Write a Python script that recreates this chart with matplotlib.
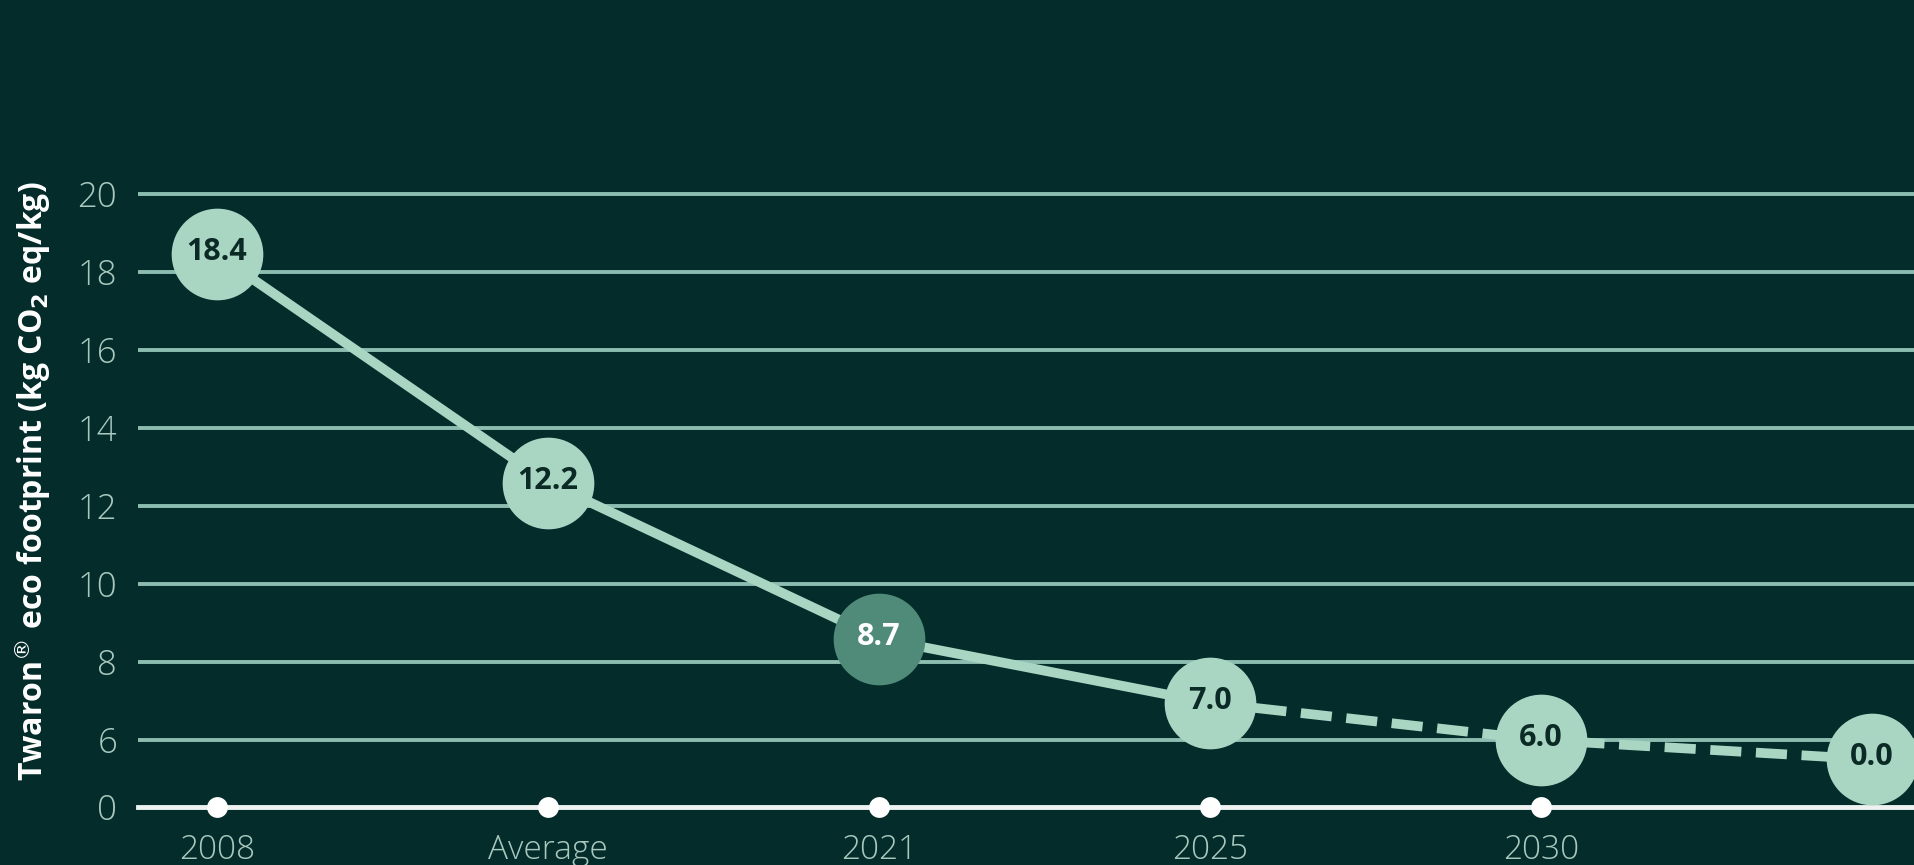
"""
Twaron eco footprint chart: line with labelled circle markers on a dark green panel.
"""
import matplotlib
matplotlib.use('Agg')
import matplotlib.pyplot as plt

# categories along the baseline (6th point has no visible label)
categories = ['2008', 'Average', '2021', '2025', '2030', '']
value_labels = ['18.4', '12.2', '8.7', '7.0', '6.0', '0.0']
values = [18.4, 12.2, 8.7, 7.0, 6.0, 0.0]
# height at which each circle sits in the picture (axis is broken below 6)
drawn_y = [18.45, 12.6, 8.6, 6.95, 6.0, 5.5]
y_ticks = [6, 8, 10, 12, 14, 16, 18, 20]
zero_level = 4.28  # where "0" sits on the broken axis
n_solid = 4        # first four points joined by a solid line, rest dashed

BG = '#032c2a'
GRID = '#8dbdb1'
LIGHT = '#a9d6c3'
DARK = '#4f8b78'
TICK = '#a9c9bf'

fig = plt.figure(figsize=(19.14, 8.65), dpi=100, facecolor=BG)
ax = fig.add_axes([138 / 1914, 58 / 865, 1 - 138 / 1914, 1 - 58 / 865])
ax.set_facecolor(BG)

x = list(range(len(categories)))
ax.set_xlim(-79 / 331, (1914 - 217) / 331)
ax.set_ylim(zero_level, 20 + 194 / 39)

# grid lines
for t in y_ticks:
    ax.axhline(t, color=GRID, linewidth=2.8, zorder=1)
ax.axhline(zero_level, color='#eef3f1', linewidth=3.5, zorder=2, clip_on=False)

# line: solid then dashed
ax.plot(x[:n_solid], drawn_y[:n_solid], color=LIGHT, linewidth=7, zorder=3,
        solid_capstyle='round')
ax.plot(x[n_solid - 1:], drawn_y[n_solid - 1:], color=LIGHT, linewidth=7,
        dashes=(3.2, 1.5), zorder=3)

# circles with value labels
for i, (xi, yi, lab) in enumerate(zip(x, drawn_y, value_labels)):
    face = DARK if lab == '8.7' else LIGHT
    tcol = 'white' if lab == '8.7' else '#0b2a25'
    ax.plot(xi, yi, 'o', markersize=66, color=face, markeredgewidth=0,
            zorder=4, clip_on=False)
    ax.text(xi, yi + 0.05, lab, ha='center', va='center', fontsize=22,
            fontweight='bold', color=tcol, family='Open Sans', zorder=5)

# white dots on the baseline for labelled categories
for xi, cat in zip(x, categories):
    if cat:
        ax.plot(xi, zero_level, 'o', markersize=15, color='white',
                markeredgewidth=0, zorder=3, clip_on=False)
        ax.annotate(cat, (xi, zero_level), xytext=(0, -19),
                    textcoords='offset points', ha='center', va='top',
                    fontsize=24, fontweight='light', color=TICK,
                    family='Open Sans', annotation_clip=False)

ax.set_yticks([zero_level] + y_ticks)
ax.set_yticklabels(['0'] + [str(t) for t in y_ticks], fontsize=25,
                   fontweight='light', color=TICK, family='Open Sans')
ax.tick_params(axis='y', length=0, pad=15)
ax.set_xticks([])
for s in ax.spines.values():
    s.set_visible(False)

fig.text(33 / 1914, 1 - 481 / 865,
         'Twaron$^{\\circledR}$ eco footprint (kg CO$_{\\mathbf{2}}$ eq/kg)',
         rotation=90, ha='center', va='center', fontsize=23,
         fontweight='bold', color='white', family='Open Sans')

fig.savefig('out.png', dpi=100, facecolor=BG)
